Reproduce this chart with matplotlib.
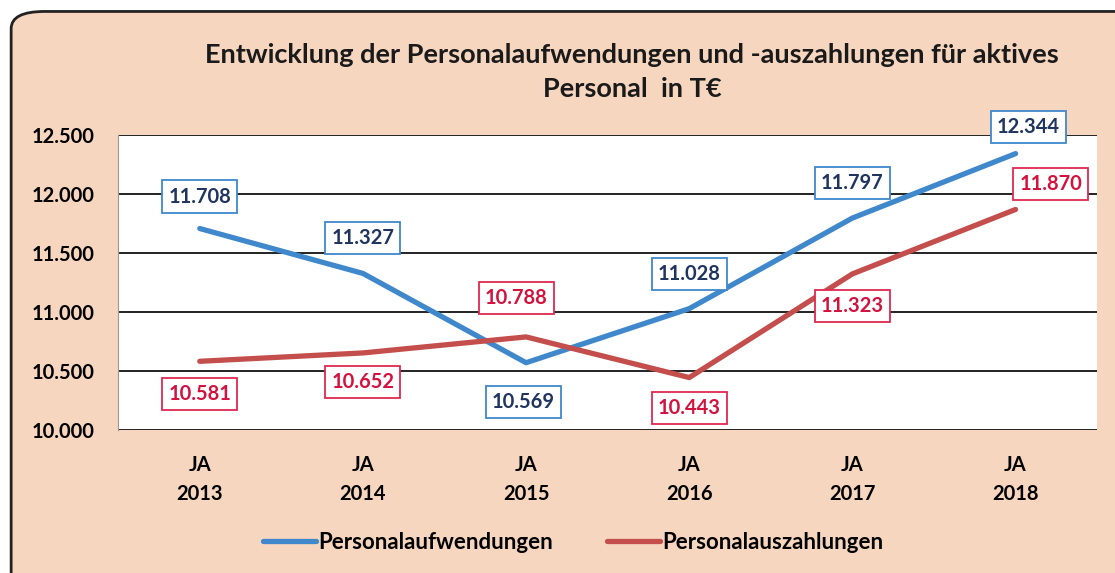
import matplotlib
matplotlib.use("Agg")
import matplotlib.pyplot as plt
from matplotlib.patches import FancyBboxPatch

plt.rcParams["font.family"] = ["Lato", "DejaVu Sans"]

# data
years = ["JA\n2013", "JA\n2014", "JA\n2015", "JA\n2016", "JA\n2017", "JA\n2018"]
aufwendungen = [11708, 11327, 10569, 11028, 11797, 12344]
auszahlungen = [10581, 10652, 10788, 10443, 11323, 11870]
yticks = [10000, 10500, 11000, 11500, 12000, 12500]

BG = "#F6D6BF"
BLUE = "#3F88CC"
RED = "#C44E4C"

fig = plt.figure(figsize=(11.15, 5.73), dpi=100)
fig.patch.set_facecolor("white")

# rounded peach frame
frame = FancyBboxPatch((0.010, -0.05), 1.05, 1.03, transform=fig.transFigure,
                       boxstyle="round,pad=0,rounding_size=0.03",
                       facecolor=BG, edgecolor="#222222", lw=2.0, zorder=-10)
fig.patches.append(frame)

ax = fig.add_axes([0.106, 0.250, 0.878, 0.514])
ax.set_facecolor("white")
x = list(range(len(years)))
ax.plot(x, aufwendungen, color=BLUE, lw=3.8, solid_capstyle="round",
        label="Personalaufwendungen", zorder=3)
ax.plot(x, auszahlungen, color=RED, lw=3.8, solid_capstyle="round",
        label="Personalauszahlungen", zorder=3)

ax.set_xlim(-0.5, 5.5)
ax.set_ylim(10000, 12500)
ax.set_yticks(yticks)
ax.set_yticklabels([f"{v:,}".replace(",", ".") for v in yticks],
                   fontsize=14.5, fontweight="bold")
ax.set_xticks(x)
ax.set_xticklabels(years, fontsize=14.5, fontweight="bold", linespacing=1.55)
ax.tick_params(axis="x", length=0, pad=18)
ax.tick_params(axis="y", length=0, pad=17)
ax.grid(axis="y", color="#222222", lw=1.4, zorder=1)
for s in ["top", "right", "bottom"]:
    ax.spines[s].set_visible(False)
ax.spines["left"].set_color("#999999")
ax.spines["left"].set_linewidth(0.8)

# label offsets in pixels (dx, dy)
off_blue = [(0, 32), (0, 35), (-3, -39), (0, 35), (0, 35), (13, 27)]
off_red = [(0, -33), (0, -29), (-10, 39), (0, -30), (0, -32), (35, 25)]

def fmt(v):
    return f"{v:,}".replace(",", ".")

for xi, v, (dx, dy) in zip(x, aufwendungen, off_blue):
    ax.annotate(fmt(v), (xi, v), xytext=(dx, dy), textcoords="offset pixels",
                ha="center", va="center", fontsize=14.5, fontweight="bold",
                color="#1F3560", zorder=5,
                bbox=dict(boxstyle="square,pad=0.3", fc="white", ec=BLUE, lw=1.3))
for xi, v, (dx, dy) in zip(x, auszahlungen, off_red):
    ax.annotate(fmt(v), (xi, v), xytext=(dx, dy), textcoords="offset pixels",
                ha="center", va="center", fontsize=14.5, fontweight="bold",
                color="#D3123E", zorder=5,
                bbox=dict(boxstyle="square,pad=0.3", fc="white", ec="#E02850", lw=1.3))

fig.text(0.567, 0.875, "Entwicklung der Personalaufwendungen und -auszahlungen für aktives\nPersonal  in T€",
         ha="center", va="center", fontsize=19.5, fontweight="bold", color="#1a1a1a",
         linespacing=1.5)

leg = fig.legend(loc="center", bbox_to_anchor=(0.514, 0.053), ncol=2, frameon=False,
                 fontsize=16, handlelength=2.4, handletextpad=0.1, columnspacing=2.4)
for t in leg.get_texts():
    t.set_fontweight("bold")

fig.savefig("out.png", dpi=100, facecolor=fig.get_facecolor())
